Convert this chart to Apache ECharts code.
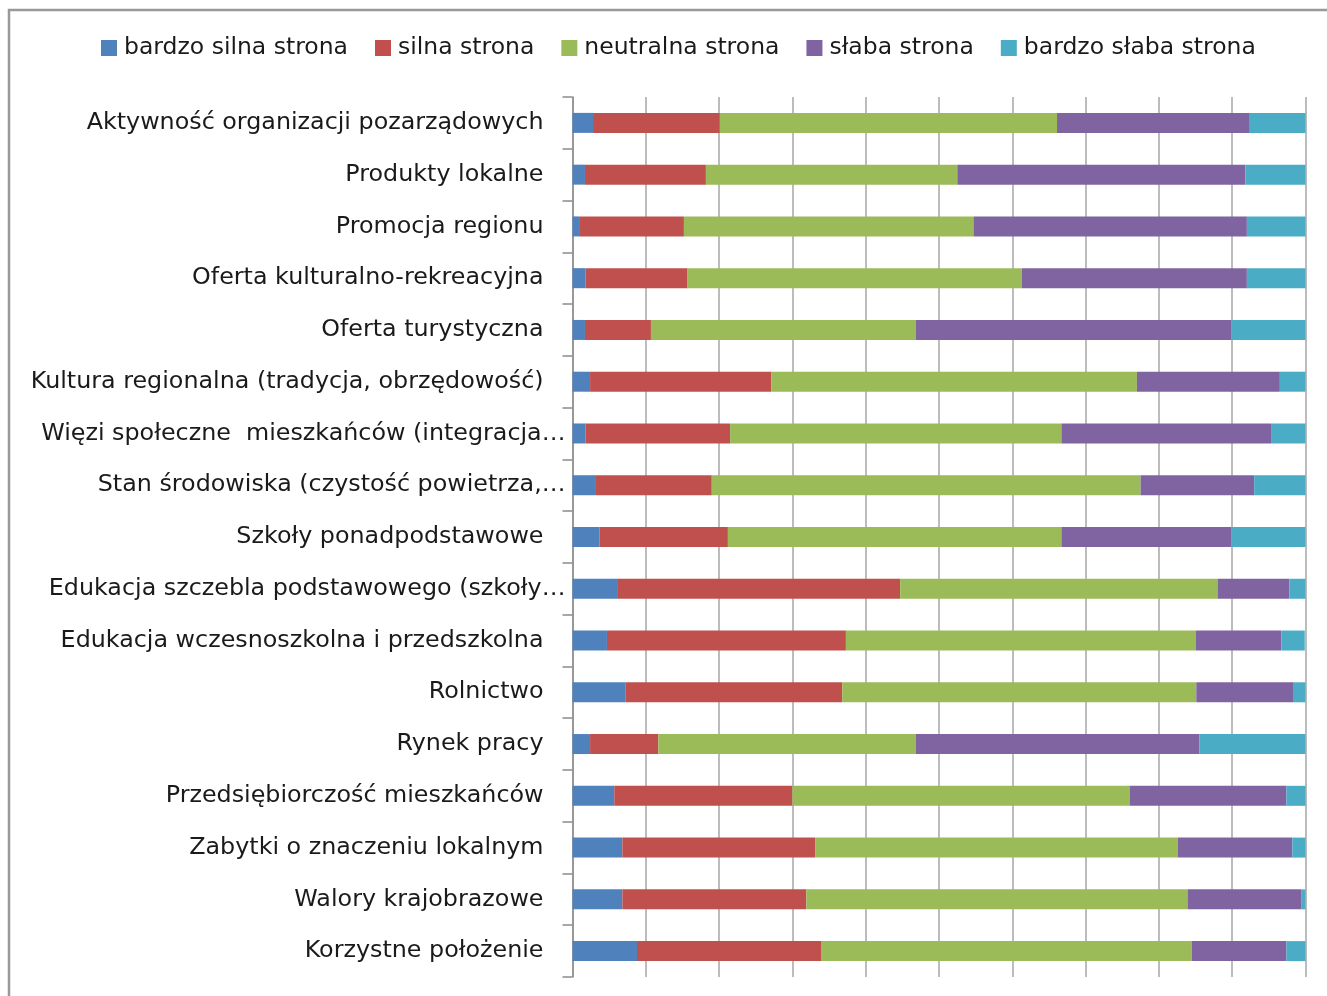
<!DOCTYPE html>
<html>
<head>
<meta charset="utf-8">
<script src="https://cdn.jsdelivr.net/npm/echarts@6/dist/echarts.min.js"></script>
<style>html,body{margin:0;padding:0;background:#fff;}#c{width:1327px;height:996px;}</style>
</head>
<body>
<div id="c"></div>
<script>
const categories = [
  "Aktywność organizacji pozarządowych",
  "Produkty lokalne",
  "Promocja regionu",
  "Oferta kulturalno-rekreacyjna",
  "Oferta turystyczna",
  "Kultura regionalna (tradycja, obrzędowość)",
  "Więzi społeczne  mieszkańców (integracja…",
  "Stan środowiska (czystość powietrza,…",
  "Szkoły ponadpodstawowe",
  "Edukacja szczebla podstawowego (szkoły…",
  "Edukacja wczesnoszkolna i przedszkolna",
  "Rolnictwo",
  "Rynek pracy",
  "Przedsiębiorczość mieszkańców",
  "Zabytki o znaczeniu lokalnym",
  "Walory krajobrazowe",
  "Korzystne położenie"
];
const seriesNames = ["bardzo silna strona","silna strona","neutralna strona","słaba strona","bardzo słaba strona"];
const bardzoSilna = [2.8,1.7,0.9,1.8,1.7,2.4,1.8,3.2,3.7,6.2,4.7,7.2,2.4,5.7,6.8,6.8,8.8];
const silna       = [17.3,16.5,14.3,13.9,9.0,24.7,19.7,15.8,17.5,38.5,32.6,29.6,9.3,24.3,26.3,25.1,25.1];
const neutralna   = [46.0,34.3,39.5,45.6,36.1,49.9,45.2,58.5,45.5,43.3,47.7,48.3,35.1,46.0,49.5,52.0,50.6];
const slaba       = [26.3,39.3,37.3,30.7,43.1,19.5,28.6,15.5,23.2,9.8,11.7,13.3,38.7,21.4,15.6,15.5,12.9];
const bardzoSlaba = [7.6,8.2,8.0,8.0,10.1,3.5,4.7,7.0,10.1,2.2,3.2,1.6,14.5,2.6,1.8,0.6,2.6];
const colors = ["#4F81BD","#C0504D","#9BBB59","#8064A2","#4BACC6"];
const values = [bardzoSilna, silna, neutralna, slaba, bardzoSlaba];

const FONT = "DejaVu Sans";
const FS_AXIS = 23.8;
const FS_LEG = 23.5;
const chart = echarts.init(document.getElementById('c'), null, {renderer:'canvas'});
chart.setOption({
  animation: false,
  backgroundColor: '#fff',
  graphic: [{
    type: 'rect', silent: true, z: -1,
    shape: {x: 9, y: 10, width: 1400, height: 1100},
    style: {fill: 'none', stroke: '#999999', lineWidth: 2.5}
  }],
  legend: {
    top: 31, left: 96,
    itemWidth: 16, itemHeight: 16, itemGap: 27,
    icon: 'rect',
    textStyle: {fontFamily: FONT, fontSize: FS_LEG, color: '#1a1a1a', padding: [0,0,0,2]},
    data: seriesNames
  },
  grid: {left: 572.5, right: 21.5, top: 97, bottom: 19, containLabel: false},
  xAxis: {
    type: 'value', min: 0, max: 100, interval: 10,
    axisLine: {show: false}, axisTick: {show: false}, axisLabel: {show: false},
    splitLine: {show: true, lineStyle: {color: '#a6a6a6', width: 1.5}}
  },
  yAxis: {
    type: 'category', inverse: true, data: categories,
    axisLine: {show: true, lineStyle: {color: '#8c8c8c', width: 1.5}},
    axisTick: {show: true, length: 10, lineStyle: {color: '#8c8c8c', width: 1.5}},
    axisLabel: {
      margin: 7,
      fontFamily: FONT, fontSize: FS_AXIS, color: '#1a1a1a',
      formatter: v => v.endsWith('…') ? v : '{n|' + v + '}',
      rich: {n: {fontFamily: FONT, fontSize: FS_AXIS, color: '#1a1a1a', padding: [0,22,0,0]}}
    }
  },
  series: seriesNames.map((n, i) => ({
    name: n, type: 'bar', stack: 'total', barWidth: 20,
    itemStyle: {color: colors[i]},
    data: values[i]
  }))
});
</script>
</body>
</html>
